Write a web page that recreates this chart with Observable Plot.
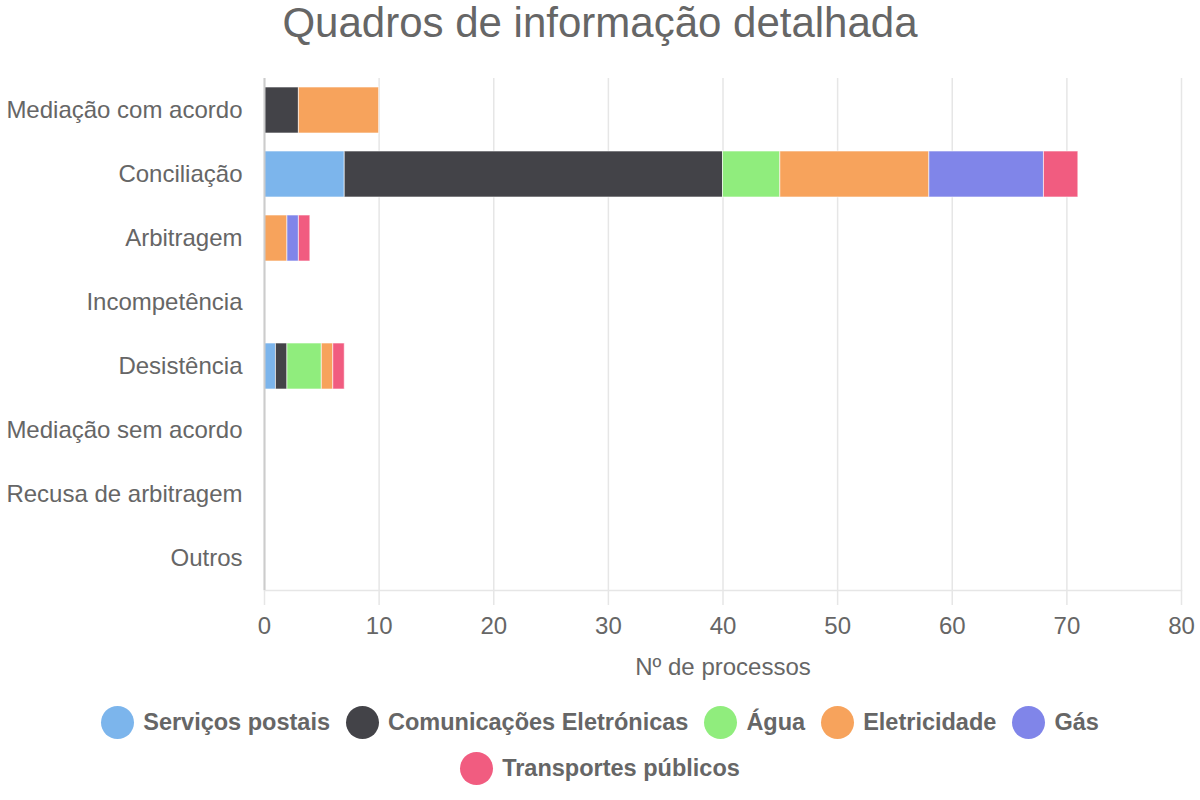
<!DOCTYPE html>
<html>
<head>
<meta charset="utf-8">
<script src="https://cdn.jsdelivr.net/npm/d3@7"></script>
<script src="https://cdn.jsdelivr.net/npm/@observablehq/plot@0.6"></script>
<style>
  html, body { margin: 0; padding: 0; background: #fff; }
  body { width: 1200px; height: 800px; font-family: "Liberation Sans", Arial, sans-serif; color: #666; }
  #title { height: 60px; line-height: 46px; text-align: center; font-size: 42px; color: #666; }
  #legend { display: flex; flex-wrap: wrap; justify-content: center; width: 1120px; margin: 26px auto 0; row-gap: 13px; column-gap: 16px; }
  .item { display: flex; align-items: center; font-size: 23.5px; font-weight: bold; color: #666; }
  .dot { width: 33px; height: 33px; border-radius: 50%; margin-right: 9px; }
</style>
</head>
<body>
<div id="title">Quadros de informação detalhada</div>
<div id="chart"></div>
<div id="legend"></div>
<script>
const categories = ["Mediação com acordo", "Conciliação", "Arbitragem", "Incompetência", "Desistência", "Mediação sem acordo", "Recusa de arbitragem", "Outros"];
const seriesNames = ["Serviços postais", "Comunicações Eletrónicas", "Água", "Eletricidade", "Gás", "Transportes públicos"];
const colors = ["#7cb5ec", "#434348", "#90ed7d", "#f7a35c", "#8085e9", "#f15c80"];
// values per series, aligned with categories
const servicosPostais = [0, 7, 0, 0, 1, 0, 0, 0];
const comunicacoes    = [3, 33, 0, 0, 1, 0, 0, 0];
const agua            = [0, 5, 0, 0, 3, 0, 0, 0];
const eletricidade    = [7, 13, 2, 0, 1, 0, 0, 0];
const gas             = [0, 10, 1, 0, 0, 0, 0, 0];
const transportes     = [0, 3, 1, 0, 1, 0, 0, 0];
const xTicks = [0, 10, 20, 30, 40, 50, 60, 70, 80];

const seriesValues = [servicosPostais, comunicacoes, agua, eletricidade, gas, transportes];
const data = [];
categories.forEach((c, i) => {
  seriesNames.forEach((s, j) => {
    if (seriesValues[j][i] > 0) data.push({category: c, series: s, value: seriesValues[j][i]});
  });
});

const chart = Plot.plot({
  width: 1200,
  height: 620,
  marginTop: 18,
  marginBottom: 90,
  marginLeft: 264,
  marginRight: 19,
  style: { fontFamily: "'Liberation Sans', Arial, sans-serif", fontSize: "24px", color: "#666", background: "#fff" },
  x: { domain: [0, 80], ticks: xTicks },
  y: { domain: categories, paddingInner: 0.28, paddingOuter: 0.14 },
  color: { domain: seriesNames, range: colors },
  marks: [
    Plot.gridX(xTicks, { stroke: "#e6e6e6", strokeOpacity: 1, strokeWidth: 1.5 }),
    Plot.frame({ anchor: "bottom", stroke: "#e6e6e6", strokeWidth: 1.5 }),
    Plot.barX(data, Plot.stackX({ y: "category", x: "value", z: "series", fill: "series", order: seriesNames, stroke: "#fff", strokeWidth: 1, strokeOpacity: 0.6 })),
    Plot.ruleX([0], { stroke: "#ccc", strokeWidth: 2 }),
    Plot.axisX(xTicks, { tickSize: 15, tickPadding: 11, stroke: "#e6e6e6", strokeWidth: 1.5, fill: "#666", fontSize: 24, label: null }),
    Plot.axisY({ tickSize: 0, tickPadding: 22, fill: "#666", fontSize: 24, label: null }),
    Plot.text(["Nº de processos"], { frameAnchor: "bottom", dy: 84, fill: "#666", fontSize: 24 })
  ]
});
document.getElementById("chart").appendChild(chart);

const legend = document.getElementById("legend");
seriesNames.forEach((s, i) => {
  const item = document.createElement("div");
  item.className = "item";
  const dot = document.createElement("span");
  dot.className = "dot";
  dot.style.background = colors[i];
  const label = document.createElement("span");
  label.textContent = s;
  item.appendChild(dot);
  item.appendChild(label);
  legend.appendChild(item);
});
</script>
</body>
</html>
